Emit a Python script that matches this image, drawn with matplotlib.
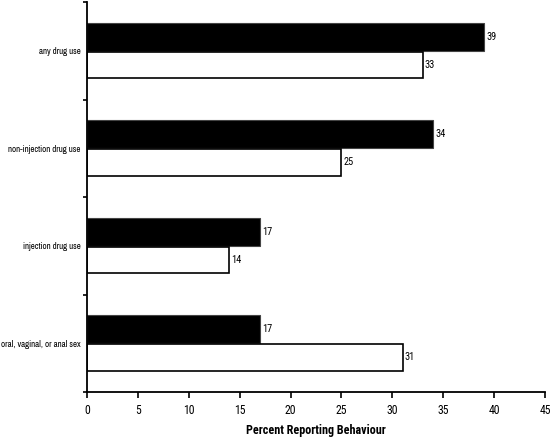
import matplotlib

matplotlib.use("Agg")
import matplotlib.pyplot as plt
import numpy as np
from matplotlib import font_manager

categories = ["any drug use", "non-injection drug use", "injection drug use",
              "oral, vaginal, or anal sex"]
black_vals = [39, 34, 17, 17]
white_vals = [33, 25, 14, 31]
x_ticks = [0, 5, 10, 15, 20, 25, 30, 35, 40, 45]

# the original uses a narrow Arial-like face; take whichever narrow ones are here
installed = {f.name for f in font_manager.fontManager.ttflist}


def pick(names):
    return [n for n in names if n in installed][:1] + ["Liberation Sans", "DejaVu Sans"]


main_font = pick(("Liberation Sans Narrow", "Arial Narrow", "Roboto Condensed",
                  "Asap Condensed", "Barlow Semi Condensed"))
label_font = pick(("Liberation Sans Narrow", "Arial Narrow", "Archivo Narrow",
                   "Roboto Condensed", "Asap Condensed"))
plt.rcParams["font.family"] = main_font

fig = plt.figure(figsize=(5.5, 4.37), dpi=100)
ax = fig.add_axes([0.158, 0.103, 0.833, 0.892])

n = len(categories)
pos = np.arange(n)[::-1].astype(float)
h = 0.29
bars_b = ax.barh(pos + h / 2, black_vals, height=h, color="black",
                 edgecolor="#444444", linewidth=0.8)
bars_w = ax.barh(pos - h / 2, white_vals, height=h * 0.95, color="white",
                 edgecolor="black", linewidth=1.2)

for bars, vals in ((bars_b, black_vals), (bars_w, white_vals)):
    for b, v in zip(bars, vals):
        ax.text(v + 0.2, b.get_y() + b.get_height() / 2, str(v),
                ha="left", va="center", fontsize=7.5)

ax.set_xlim(0, 45)
ax.set_ylim(-0.5, n - 0.5)
ax.set_xticks(x_ticks)
ax.set_xticklabels([str(t) for t in x_ticks], fontsize=8.5)

ax.set_yticks(pos)
ylabels = ax.set_yticklabels(categories, fontsize=7, family=label_font)
ax.tick_params(axis="y", which="major", length=0, pad=4.5)
ax.set_yticks(np.arange(-0.5, n, 1.0), minor=True)
ax.tick_params(axis="y", which="minor", length=3, width=1.2)
ax.tick_params(axis="x", length=4, width=1.2, pad=5)

for side in ("top", "right"):
    ax.spines[side].set_visible(False)
for side in ("left", "bottom"):
    ax.spines[side].set_linewidth(1.3)

xlab = ax.set_xlabel("Percent Reporting Behaviour", fontsize=8.5, fontweight="bold",
                     labelpad=5)

# scale the longest category label and the axis title to the widths seen in the original
for _ in range(2):
    fig.canvas.draw()
    r = fig.canvas.get_renderer()
    w = ylabels[-1].get_window_extent(r).width
    fs = min(ylabels[-1].get_fontsize() * 79 / w, 8.5)
    for t in ylabels:
        t.set_fontsize(fs)
    wx = xlab.get_window_extent(r).width
    xlab.set_fontsize(min(xlab.get_fontsize() * 139 / wx, 9.5))

fig.savefig("out.png", dpi=100)
